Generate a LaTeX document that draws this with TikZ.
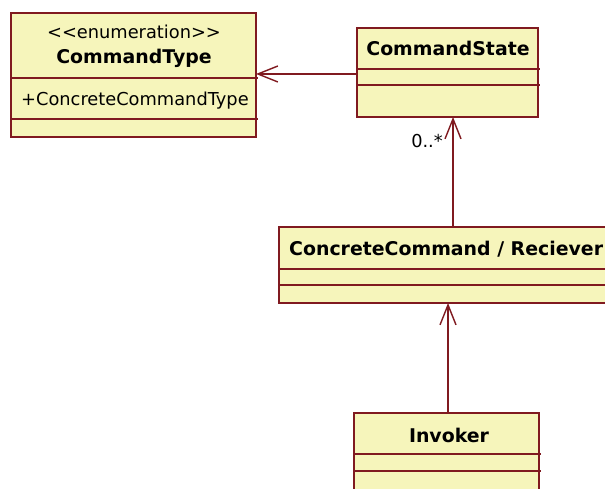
\documentclass[tikz,border=0pt]{standalone}
\usepackage{fontspec}
\setmainfont{DejaVu Sans}
\usetikzlibrary{arrows.meta}
\definecolor{umlfill}{RGB}{246,245,187}
\definecolor{umlline}{RGB}{128,26,32}
\begin{document}
\begin{tikzpicture}[x=1pt,y=-1pt,
  classbox/.style={draw=umlline,fill=umlfill,line width=1.4pt,anchor=north west,inner sep=0pt,outer sep=0pt},
  divider/.style={draw=umlline,line width=1.4pt},
  assoc/.style={draw=umlline,line width=1.4pt,-{Straight Barb[length=20pt,width=16pt,line width=1.4pt]}},
  boldtext/.style={inner sep=0pt,anchor=base,font=\fontsize{18.9}{22}\selectfont\bfseries},
  plaintext/.style={inner sep=0pt,anchor=base,font=\fontsize{17.8}{21}\selectfont}]
\useasboundingbox (0,0) rectangle (605,489);
\clip (0,0) rectangle (605,489);
% CommandType
\node[classbox,minimum width=245pt,minimum height=124pt] (ct) at (11,13) {};
\draw[divider] (11,78) -- (258,78);
\draw[divider] (11,119) -- (258,119);
\node[plaintext] (ctst) at (134,39) {<\kern0pt<enumeration>\kern0pt>};
\node[boldtext] (ctname) at (134,64) {CommandType};
\node[plaintext,anchor=base west] (ctattr) at (21,106) {+ConcreteCommandType};
% CommandState
\node[classbox,minimum width=181pt,minimum height=89pt] (cs) at (357,28) {};
\draw[divider] (357,69) -- (540,69);
\draw[divider] (357,85) -- (540,85);
\node[boldtext] (csname) at (448,56) {CommandState};
% ConcreteCommand / Reciever
\node[classbox,minimum width=360pt,minimum height=76pt] (cc) at (279,227) {};
\draw[divider] (279,269) -- (640,269);
\draw[divider] (279,285) -- (640,285);
\node[boldtext,anchor=base west] (ccname) at (289,255) {ConcreteCommand / Reciever};
% Invoker
\node[classbox,minimum width=185pt,minimum height=90pt] (inv) at (354,413) {};
\draw[divider] (354,454) -- (541,454);
\draw[divider] (354,471) -- (541,471);
\node[boldtext] (invname) at (449,442) {Invoker};
% connectors
\draw[assoc] (cs.west |- 0,74) -- (ct.east |- 0,74);
\draw[assoc] (cc.north -| 453,0) -- (cs.south -| 453,0);
\node[plaintext,anchor=base east] (mult) at (443,148) {0..*};
\draw[assoc] (inv.north -| 448,0) -- (cc.south -| 448,0);
\end{tikzpicture}
\end{document}
